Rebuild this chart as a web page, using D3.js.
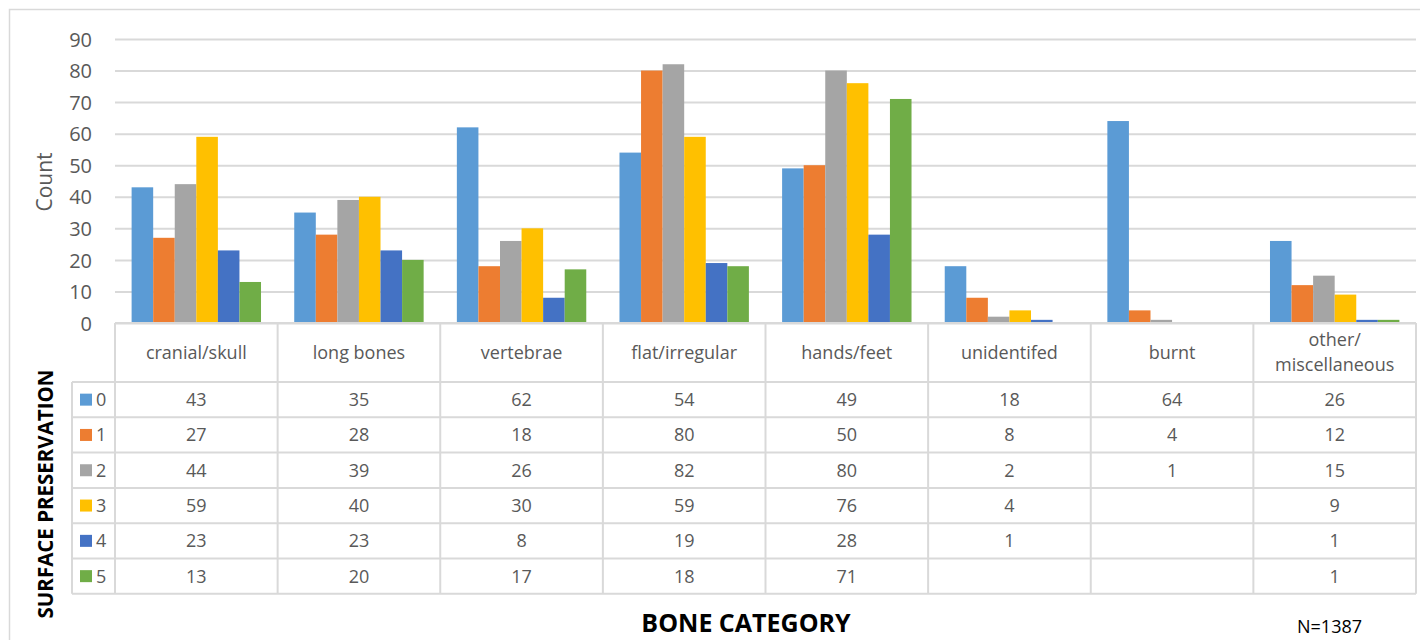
<!DOCTYPE html>
<html><head><meta charset="utf-8">
<script src="https://cdn.jsdelivr.net/npm/d3@7"></script>
<style>body{margin:0;background:#fff}svg{display:block}</style>
</head><body>
<script>
const categories = ["cranial/skull","long bones","vertebrae","flat/irregular","hands/feet","unidentifed","burnt","other/\nmiscellaneous"];
const seriesNames = ["0","1","2","3","4","5"];
const s0 = [43,35,62,54,49,18,64,26];
const s1 = [27,28,18,80,50,8,4,12];
const s2 = [44,39,26,82,80,2,1,15];
const s3 = [59,40,30,59,76,4,null,9];
const s4 = [23,23,8,19,28,1,null,1];
const s5 = [13,20,17,18,71,null,null,1];
const yTicks = [0,10,20,30,40,50,60,70,80,90];
const colors = ["#5B9BD5","#ED7D31","#A5A5A5","#FFC000","#4472C4","#70AD47"];
const series = [s0,s1,s2,s3,s4,s5];

const W=1420,H=640;
const svg=d3.select("body").append("svg").attr("width",W).attr("height",H);
const font="'Open Sans', sans-serif";
const grid="#d9d9d9", txt="#595959";

// outer border
svg.append("path").attr("d","M9.5,640 V9.5 H1420").attr("fill","none").attr("stroke","#d9d9d9").attr("stroke-width",1.5);

const x0=115,x1=1416,yTop=39,yBot=323;
const x=d3.scaleBand().domain(categories).range([x0,x1]);
const xs=d3.scaleBand().domain(seriesNames).range([0,x.bandwidth()]).paddingOuter(0.77).paddingInner(0);
const y=d3.scaleLinear().domain([0,90]).range([yBot,yTop]);

// gridlines
const yAxis=d3.axisLeft(y).tickValues(yTicks).tickSize(-(x1-x0)).tickPadding(23);
const ga=svg.append("g").attr("transform",`translate(${x0},0)`).call(yAxis);
ga.select(".domain").remove();
ga.selectAll(".tick line").attr("stroke",grid).attr("stroke-width",2);
ga.selectAll(".tick text").attr("fill",txt).attr("font-family",font).attr("font-size",20).attr("dy","0.36em");

// bars
series.forEach((s,i)=>{
  svg.append("g").selectAll("rect").data(s.map((v,j)=>({v,c:categories[j]})).filter(d=>d.v!=null))
   .join("rect")
   .attr("x",d=>x(d.c)+xs(seriesNames[i]))
   .attr("width",xs.bandwidth())
   .attr("y",d=>y(d.v)).attr("height",d=>y(0)-y(d.v))
   .attr("fill",colors[i]);
});

// data table
const hdrBot=382, rowH=35.3;
const tableBot=hdrBot+rowH*6;
const legL=72;
const lines=svg.append("g").attr("stroke",grid).attr("stroke-width",2).attr("fill","none");
lines.append("line").attr("x1",x0).attr("x2",x1).attr("y1",yBot).attr("y2",yBot);
categories.forEach((c,j)=>{
  lines.append("line").attr("x1",x(c)).attr("x2",x(c)).attr("y1",yBot).attr("y2",tableBot);
});
lines.append("line").attr("x1",x1).attr("x2",x1).attr("y1",yBot).attr("y2",tableBot);
for(let r=0;r<=6;r++){
  const yy=hdrBot+r*rowH;
  lines.append("line").attr("x1",legL).attr("x2",x1).attr("y1",yy).attr("y2",yy);
}
lines.append("line").attr("x1",legL).attr("x2",legL).attr("y1",hdrBot).attr("y2",tableBot);

const fs=18;
// header labels
categories.forEach(c=>{
  const parts=c.split("\n");
  const cx=x(c)+x.bandwidth()/2, cy=(yBot+hdrBot)/2;
  const t=svg.append("text").attr("x",cx).attr("text-anchor","middle").attr("font-family",font).attr("font-size",fs).attr("fill",txt);
  parts.forEach((p,k)=>{
    t.append("tspan").attr("x",cx).attr("y",cy+(k-(parts.length-1)/2)*25+6).text(p);
  });
});

// data cells and legend
series.forEach((s,i)=>{
  const cy=hdrBot+i*rowH+rowH/2;
  svg.append("rect").attr("x",80).attr("y",cy-6).attr("width",12).attr("height",12).attr("fill",colors[i]);
  svg.append("text").attr("x",96).attr("y",cy+6.5).attr("font-family",font).attr("font-size",fs).attr("fill",txt).text(seriesNames[i]);
  s.forEach((v,j)=>{
    if(v==null) return;
    svg.append("text").attr("x",x(categories[j])+x.bandwidth()/2).attr("y",cy+6.5).attr("text-anchor","middle")
      .attr("font-family",font).attr("font-size",fs).attr("fill",txt).text(v);
  });
});

// axis titles
svg.append("text").attr("transform","translate(52,182) rotate(-90)").attr("text-anchor","middle")
  .attr("font-family",font).attr("font-size",21).attr("fill",txt).text("Count");
svg.append("text").attr("transform","translate(52.5,494) rotate(-90)").attr("text-anchor","middle")
  .attr("font-family",font).attr("font-weight","bold").attr("font-size",20.5).attr("fill","#000").text("SURFACE PRESERVATION");
svg.append("text").attr("x",746).attr("y",632).attr("text-anchor","middle")
  .attr("font-family",font).attr("font-weight","bold").attr("font-size",25).attr("fill","#000").text("BONE CATEGORY");
svg.append("text").attr("x",1297).attr("y",633).attr("font-family",font).attr("font-size",18).attr("fill","#000").text("N=1387");
</script>
</body></html>
